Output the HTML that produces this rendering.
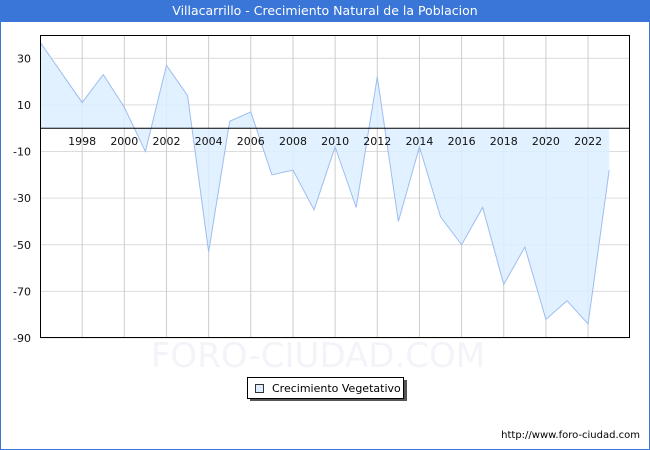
<!DOCTYPE html>
<html><head><meta charset="utf-8">
<style>
body{margin:0;width:650px;height:450px;overflow:hidden;background:#fff;font-family:"DejaVu Sans","Liberation Sans",sans-serif;}
#frame{position:absolute;left:0;top:0;width:648px;height:448px;border:1px solid #3a75d8;}
#title{position:absolute;left:0;top:0;width:650px;height:22px;background:#3a75d8;color:#fff;font-size:12.5px;line-height:22px;text-align:center;}
svg{position:absolute;left:0;top:0;}
</style></head><body>
<div id="frame"></div>
<div id="title">Villacarrillo - Crecimiento Natural de la Poblacion</div>
<svg id="chart" width="650" height="450"></svg>
<script>
const years=[1996,1997,1998,1999,2000,2001,2002,2003,2004,2005,2006,2007,2008,2009,2010,2011,2012,2013,2014,2015,2016,2017,2018,2019,2020,2021,2022,2023];
const values=[37,24,11,23,9,-10,27,14,-53,3,7,-20,-18,-35,-8,-34,22,-40,-8,-38,-50,-34,-67,-51,-82,-74,-84,-18];
const yTicks=[30,10,-10,-30,-50,-70,-90];
const xTicks=[1998,2000,2002,2004,2006,2008,2010,2012,2014,2016,2018,2020,2022];
const L=40,R=630,T=35,B=338;
const yMin=-90,yMax=40;
const x=yr=>40+(yr-1996)*21.08;
const y=v=>B-(v-yMin)*(B-T)/(yMax-yMin);
const NS='http://www.w3.org/2000/svg';
const svg=document.getElementById('chart');
function mk(t,a){const e=document.createElementNS(NS,t);for(const k in a)e.setAttribute(k,a[k]);svg.appendChild(e);return e;}
let defs=mk('defs',{});
defs.innerHTML='<clipPath id="cp"><rect x="40" y="35" width="590" height="303"/></clipPath>';
for(const v of yTicks){
 const g=mk('line',{x1:L,x2:R,y1:y(v),y2:y(v),stroke:'#dcdcdc','stroke-width':1});
 
 
 const t=mk('text',{x:31,y:y(v)+4,'text-anchor':'end','font-size':11,fill:'#111'});
 t.textContent=v;
 
 
}
for(const yr of xTicks){
 const g=mk('line',{x1:x(yr),x2:x(yr),y1:T,y2:B,stroke:'#cccccc','stroke-width':1});
 
 
}
let pts=years.map((yr,i)=>x(yr)+','+y(values[i])).join(' ');
const area=mk('polygon',{points:x(years[0])+','+y(0)+' '+pts+' '+x(years[years.length-1])+','+y(0),fill:'#ddeeff','fill-opacity':0.85,'clip-path':'url(#cp)'});


const line=mk('polyline',{points:pts,fill:'none',stroke:'#9dbdf0','stroke-width':1,'clip-path':'url(#cp)'});


const zero=mk('line',{x1:L,x2:R,y1:y(0),y2:y(0),stroke:'#000','stroke-width':1});


for(const yr of xTicks){
 const t=mk('text',{x:x(yr),y:y(0)+17,'text-anchor':'middle','font-size':11,fill:'#111'});
 t.textContent=yr;
 
 
}
const box=mk('rect',{x:L+0.5,y:T+0.5,width:R-L-1,height:B-T-1,fill:'none',stroke:'#000','stroke-width':1});


const wm=mk('text',{x:318,y:367,'text-anchor':'middle','font-size':34,fill:'#f2f4fa'});
wm.textContent='FORO-CIUDAD.COM';


const lsh=mk('rect',{x:250,y:380,width:157,height:21,fill:'#555'});


const lb=mk('rect',{x:247.5,y:377.5,width:156,height:21,fill:'#fff',stroke:'#000','stroke-width':1});


const ls=mk('rect',{x:255.5,y:384.5,width:8,height:8,fill:'#ddeeff',stroke:'#333','stroke-width':1});


const lt=mk('text',{x:272,y:392,'font-size':11,fill:'#000'});
lt.textContent='Crecimiento Vegetativo';


const url=mk('text',{x:640,y:438,'text-anchor':'end','font-size':10,fill:'#000'});
url.textContent='http://www.foro-ciudad.com';


</script>
</body></html>
